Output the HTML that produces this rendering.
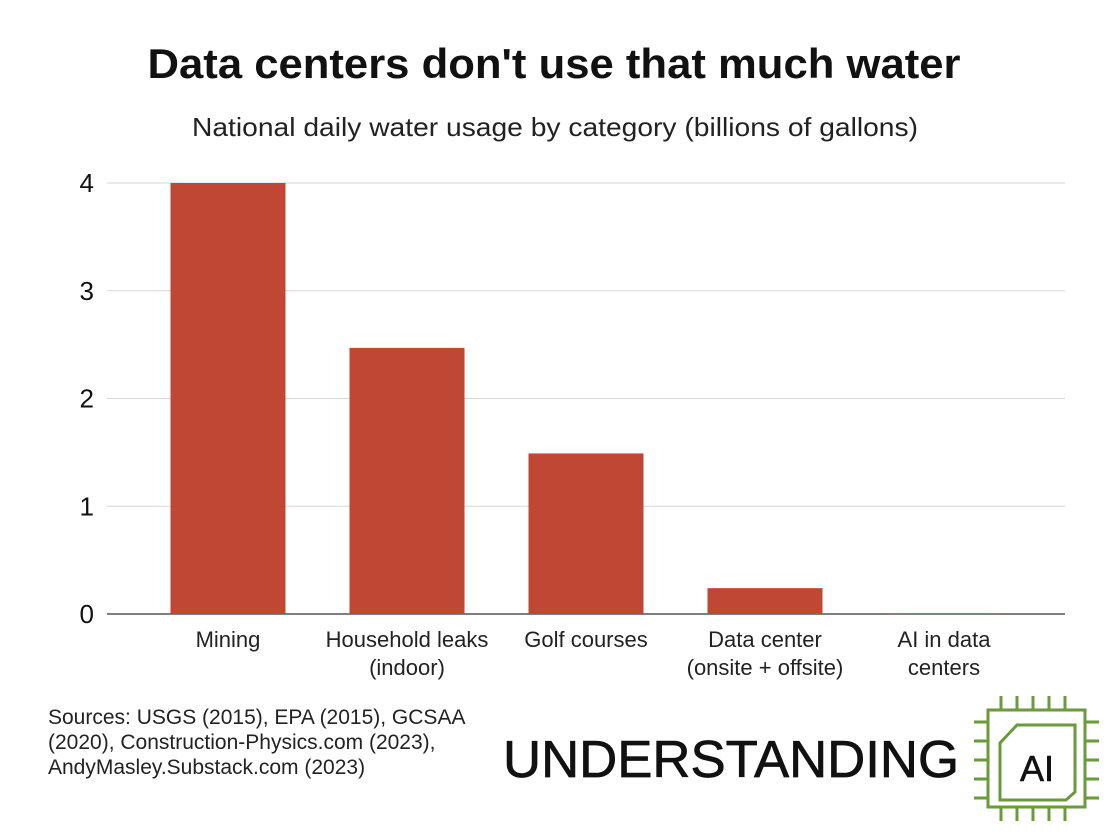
<!DOCTYPE html>
<html><head><meta charset="utf-8"><style>
body{margin:0;background:#fff;width:1115px;height:837px;overflow:hidden;font-family:"Liberation Sans",sans-serif}
svg{display:block}
</style></head><body>
<svg width="1115" height="837">
<text x="554" y="78" text-anchor="middle" font-size="42" font-weight="bold" fill="#111" textLength="813" lengthAdjust="spacingAndGlyphs">Data centers don't use that much water</text>
<text x="555" y="136" text-anchor="middle" font-size="26" fill="#222" textLength="726" lengthAdjust="spacingAndGlyphs">National daily water usage by category (billions of gallons)</text>
<g id="grid"></g><g id="bars"></g><g id="xlabels"></g>
<text x="48" y="724" font-size="21" fill="#222"><tspan x="48">Sources: USGS (2015), EPA (2015), GCSAA</tspan><tspan x="48" dy="25">(2020), Construction-Physics.com (2023),</tspan><tspan x="48" dy="25">AndyMasley.Substack.com (2023)</tspan></text>
<text x="503" y="777" font-size="52" fill="#111" stroke="#111" stroke-width="0.7" textLength="456" lengthAdjust="spacingAndGlyphs">UNDERSTANDING</text>
<g stroke="#6a9a3a" stroke-width="3" fill="none">
<rect x="988" y="710" width="97" height="97"/>
<path d="M1017 725 H1075 V792 L1066 800 H1000 V743 Z"/>
<path d="M1001 696V710M1017 696V710M1033 696V710M1049 696V710M1065 696V710M1001 807V821M1017 807V821M1033 807V821M1049 807V821M1065 807V821M974 722H988M974 741H988M974 760H988M974 779H988M974 798H988M1085 722H1099M1085 741H1099M1085 760H1099M1085 779H1099M1085 798H1099"/>
</g>
<text x="1037" y="781" text-anchor="middle" font-size="36" fill="#111" stroke="#111" stroke-width="0.6">AI</text>
</svg>
<script>
const categories=["Mining","Household leaks|(indoor)","Golf courses","Data center|(onsite + offsite)","AI in data|centers"];
const values=[4,2.47,1.49,0.24,0.003];
const ticks=[0,1,2,3,4];
const NS="http://www.w3.org/2000/svg";
const y=v=>614-v*107.75;
const xc=i=>228+i*179;
function mk(t,a,p){const e=document.createElementNS(NS,t);for(const k in a)e.setAttribute(k,a[k]);document.getElementById(p).appendChild(e);return e;}
ticks.forEach(t=>{
 const l=mk('line',{x1:107,x2:1065,y1:y(t),y2:y(t),stroke:t===0?'#555':'#d6d6d6','stroke-width':t===0?1.5:1},'grid');
 
 
 const tx=mk('text',{x:94,y:y(t)+9,'text-anchor':'end','font-size':26,fill:'#111'},'grid');
 tx.textContent=t;
 
 
});
values.forEach((v,i)=>{
 const r=mk('rect',{x:xc(i)-57.5,y:y(v),width:115,height:614-y(v),fill:'#bf4733'},'bars');
 
 
 const lines=categories[i].split('|');
 lines.forEach((s,j)=>{
  const t=mk('text',{x:xc(i),y:647+j*28,'text-anchor':'middle','font-size':22,fill:'#222'},'xlabels');
  t.textContent=s;
  
  
 });
});
</script>
</body></html>
